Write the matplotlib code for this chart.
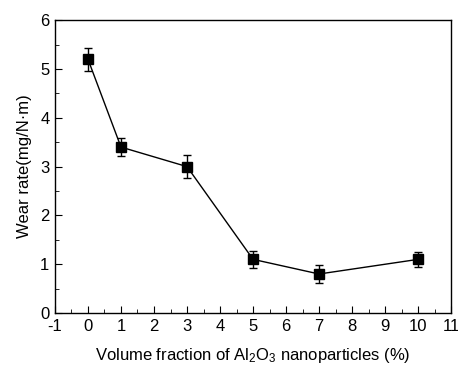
import matplotlib
matplotlib.use("Agg")
import matplotlib.pyplot as plt
from matplotlib.ticker import MultipleLocator

plt.rcParams['font.family'] = ['Liberation Sans', 'DejaVu Sans']
plt.rcParams['axes.unicode_minus'] = False
plt.rcParams['mathtext.fontset'] = 'custom'
plt.rcParams['mathtext.rm'] = 'Liberation Sans'
plt.rcParams['mathtext.it'] = 'Liberation Sans'

volume_fraction = [0, 1, 3, 5, 7, 10]
wear_rate = [5.2, 3.4, 3.0, 1.1, 0.8, 1.1]
wear_err = [0.24, 0.19, 0.23, 0.18, 0.19, 0.15]

fig = plt.figure(figsize=(4.58, 3.67), dpi=100)
ax = fig.add_axes([0.120, 0.147, 0.865, 0.798])
ax.errorbar(volume_fraction, wear_rate, yerr=wear_err, color='black', marker='s',
            markersize=7, linewidth=1, elinewidth=1, capsize=3, capthick=1)
ax.set_xlim(-1, 11)
ax.set_ylim(0, 6)
ax.xaxis.set_major_locator(MultipleLocator(1))
ax.xaxis.set_minor_locator(MultipleLocator(0.5))
ax.yaxis.set_major_locator(MultipleLocator(1))
ax.yaxis.set_minor_locator(MultipleLocator(0.5))
ax.tick_params(which='both', direction='in', top=False, right=False, labelsize=12)
ax.tick_params(which='major', length=5, pad=4)
ax.tick_params(which='minor', length=3)
for s in ax.spines.values():
    s.set_linewidth(1)
ax.set_xlabel('Volume fraction of Al$_\\mathrm{2}$O$_\\mathrm{3}$ nanoparticles (%)', fontsize=12, labelpad=9)
ax.set_ylabel('Wear rate(mg/N·m)', fontsize=12, labelpad=6)
fig.savefig('out.png', dpi=100)
